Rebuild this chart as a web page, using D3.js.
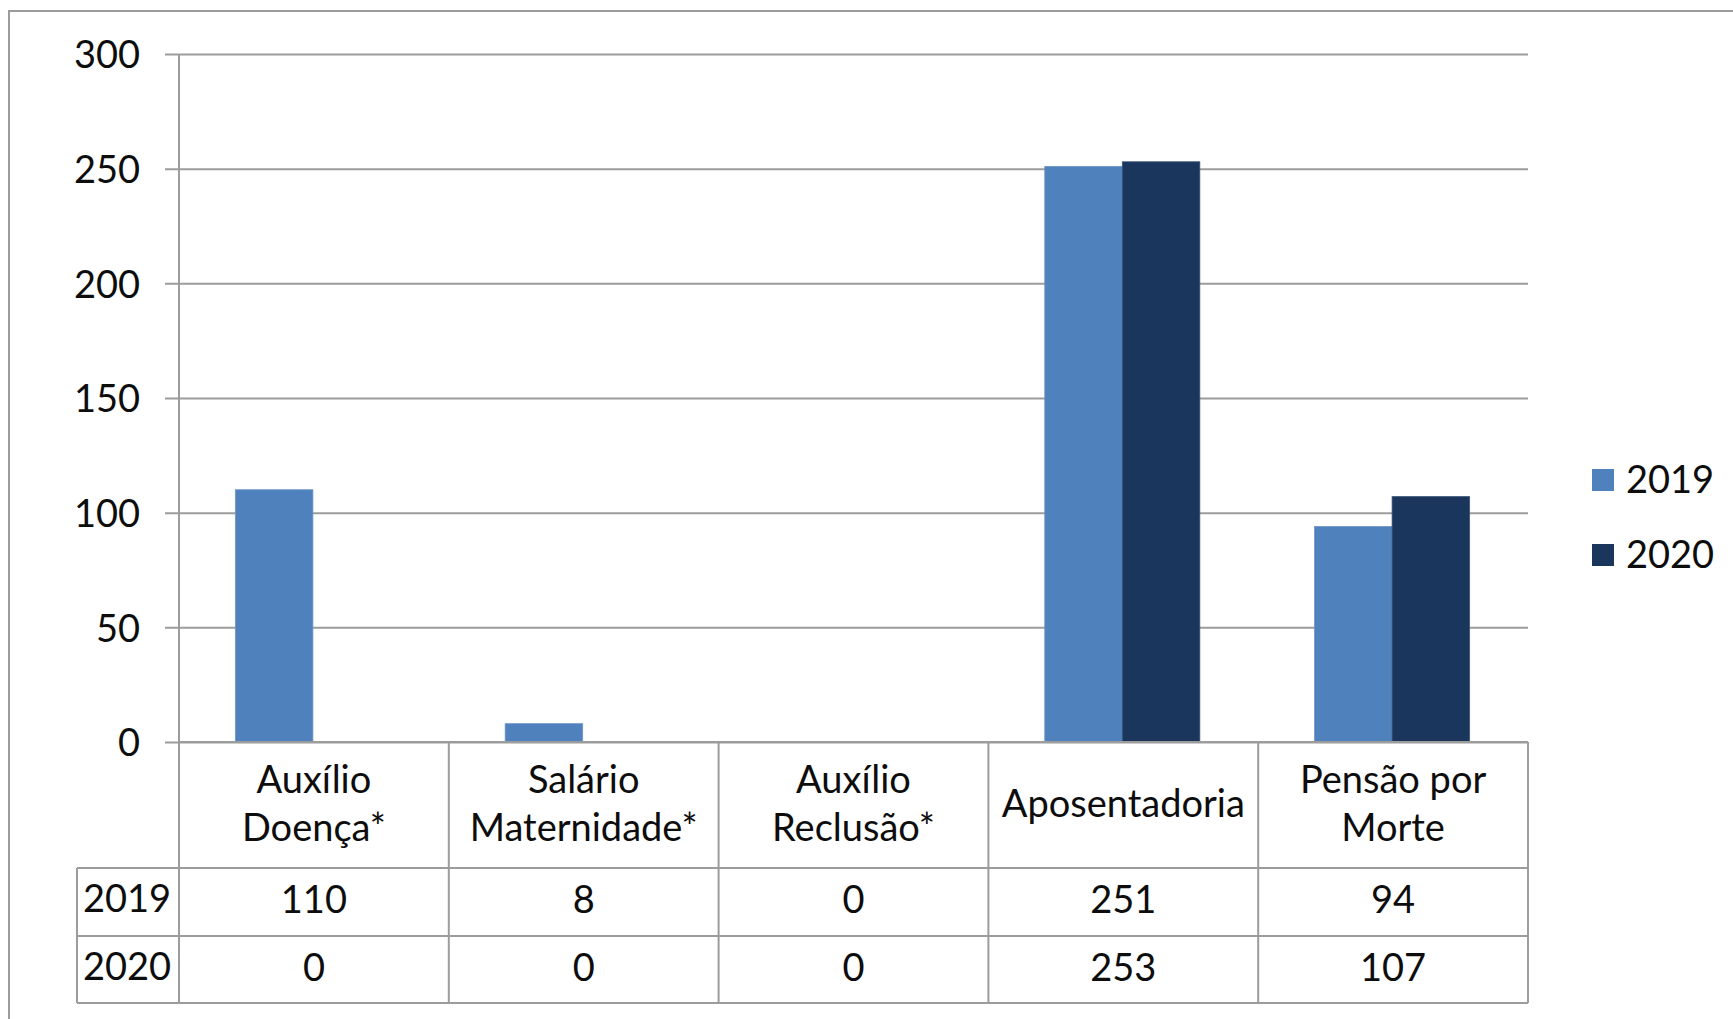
<!DOCTYPE html>
<html>
<head>
<meta charset="utf-8">
<script src="https://cdn.jsdelivr.net/npm/d3@7"></script>
<style>
  body { margin: 0; background: #fff; }
  text { font-family: Lato, "Open Sans", sans-serif; fill: #0d0d0d; }
</style>
</head>
<body>
<svg id="chart" width="1733" height="1019"></svg>
<script>
var width = 1733, height = 1019;

// data
var categories = ["Auxílio Doença*", "Salário Maternidade*", "Auxílio Reclusão*", "Aposentadoria", "Pensão por Morte"];
var categoryLines = [["Auxílio", "Doença*"], ["Salário", "Maternidade*"], ["Auxílio", "Reclusão*"], ["Aposentadoria"], ["Pensão por", "Morte"]];
var series = ["2019", "2020"];
var values2019 = [110, 8, 0, 251, 94];
var values2020 = [0, 0, 0, 253, 107];
var yTicks = [0, 50, 100, 150, 200, 250, 300];
var colors = ["#4f81bd", "#1a365d"];

var plot = {left: 179, right: 1528, top: 54, bottom: 742};
var rows = [742, 868, 936, 1003];   // table horizontal lines
var gridColor = "#9c9c9c";
var fontSize = 38;

var svg = d3.select("#chart");

var x = d3.scaleBand().domain(categories).range([plot.left, plot.right]).padding(0);
var xs = d3.scaleBand().domain(series).range([0, x.bandwidth()]).paddingInner(0).paddingOuter(0.74);
var y = d3.scaleLinear().domain([0, 300]).range([plot.bottom, plot.top]);
var color = d3.scaleOrdinal(series, colors);

// outer frame (cut off at right and bottom)
svg.append("path")
    .attr("d", "M9," + height + "V11H" + width)
    .attr("fill", "none")
    .attr("stroke", gridColor)
    .attr("stroke-width", 2);

// gridlines + y labels
var yAxis = svg.append("g")
    .attr("transform", `translate(${plot.right},0)`)
    .call(d3.axisLeft(y).tickValues(yTicks).tickSize(plot.right - plot.left + 14).tickPadding(25))
    .call(g => g.select(".domain").remove());
yAxis.selectAll(".tick line").attr("stroke", gridColor).attr("stroke-width", 2);
yAxis.selectAll(".tick text")
    .attr("font-size", fontSize)
    .attr("font-family", "Lato, 'Open Sans', sans-serif")
    .attr("fill", "#0d0d0d")
    .attr("dy", "0.36em");

// vertical axis line
svg.append("line")
    .attr("x1", plot.left).attr("x2", plot.left)
    .attr("y1", plot.top).attr("y2", rows[3])
    .attr("stroke", gridColor).attr("stroke-width", 2);

// bars
var data = categories.map((c, i) => ({cat: c, vals: [
    {s: "2019", v: values2019[i]}, {s: "2020", v: values2020[i]}]}));

svg.append("g").selectAll("g")
    .data(data)
    .join("g")
    .attr("transform", d => `translate(${x(d.cat)},0)`)
    .selectAll("rect")
    .data(d => d.vals.filter(e => e.v > 0))
    .join("rect")
    .attr("x", d => xs(d.s) - 1)
    .attr("width", xs.bandwidth())
    .attr("y", d => y(d.v))
    .attr("height", d => y(0) - y(d.v))
    .attr("fill", d => color(d.s))
    .attr("stroke", d => d.s == "2019" ? "#6f95c6" : "#3a5478")
    .attr("stroke-width", 0.8);

// data table
var table = svg.append("g").attr("stroke", gridColor).attr("stroke-width", 2);
table.append("line").attr("x1", plot.left).attr("x2", plot.right).attr("y1", rows[0]).attr("y2", rows[0]);
rows.slice(1).forEach(r => {
    table.append("line").attr("x1", 77).attr("x2", plot.right).attr("y1", r).attr("y2", r);
});
table.append("line").attr("x1", 77).attr("x2", 77).attr("y1", rows[1]).attr("y2", rows[3]);
categories.forEach(c => {
    var xx = x(c) + x.bandwidth();
    table.append("line").attr("x1", xx).attr("x2", xx).attr("y1", rows[0]).attr("y2", rows[3]);
});

// header labels
var headerMid = (rows[0] + rows[1]) / 2;
categories.forEach((c, i) => {
    var lines = categoryLines[i];
    var t = svg.append("text")
        .attr("text-anchor", "middle")
        .attr("font-size", fontSize);
    lines.forEach((ln, j) => {
        var yy = lines.length == 1 ? headerMid + 12 : headerMid - 12 + j * 48;
        t.append("tspan").attr("x", x(c) + x.bandwidth() / 2).attr("y", yy).text(ln);
    });
});

// table values
[values2019, values2020].forEach((vals, r) => {
    var mid = (rows[r + 1] + rows[r + 2]) / 2;
    svg.append("text")
        .attr("x", 127).attr("y", mid + 10)
        .attr("text-anchor", "middle")
        .attr("font-size", fontSize)
        .text(series[r]);
    vals.forEach((v, i) => {
        svg.append("text")
            .attr("x", x(categories[i]) + x.bandwidth() / 2)
            .attr("y", mid + 11)
            .attr("text-anchor", "middle")
            .attr("font-size", fontSize)
            .text(v);
    });
});

// legend
var legend = svg.append("g").attr("transform", "translate(1592,469)");
series.forEach((s, i) => {
    var g = legend.append("g").attr("transform", `translate(0,${i * 75})`);
    g.append("rect").attr("width", 22).attr("height", 22).attr("fill", color(s));
    g.append("text").attr("x", 34).attr("y", 24).attr("font-size", fontSize).text(s);
});
</script>
</body>
</html>
